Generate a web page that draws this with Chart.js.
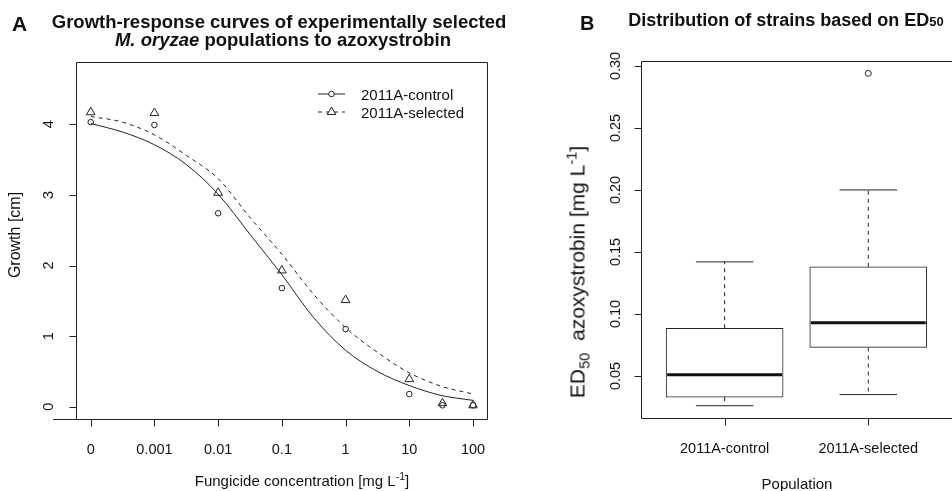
<!DOCTYPE html>
<html lang="en">
<head>
<meta charset="UTF-8">
<title>Azoxystrobin growth response and ED50</title>
<script src="https://cdn.jsdelivr.net/npm/chart.js@4.4.1/dist/chart.umd.min.js"></script>
<style>
  body { margin: 0; width: 952px; height: 491px; overflow: hidden; position: relative; background: #fff;
         font-family: "Liberation Sans", Arial, sans-serif; color: #111; }
  canvas { position: absolute; top: 0; }
  #chartA { left: 0; }
  #chartB { left: 500px; }
  .t { position: absolute; white-space: nowrap; line-height: 1; }
  .bold { font-weight: bold; }
  .rot { transform: translate(-50%, -50%) rotate(-90deg); }
  .mid { transform: translateX(-50%); }
  sup, sub { font-size: 70%; line-height: 0; }
</style>
</head>
<body>
<canvas id="chartA" width="500" height="491"></canvas>
<canvas id="chartB" width="452" height="491"></canvas>

<div class="t bold" style="left:12px; top:13px; font-size:21px;">A</div>
<div class="t bold mid" style="left:279px; top:12.5px; font-size:18.5px;">Growth-response curves of experimentally selected</div>
<div class="t bold mid" style="left:283px; top:30.5px; font-size:18.5px;"><i>M. oryzae</i> populations to azoxystrobin</div>
<div class="t" style="left:15px; top:235px; font-size:16px;"><div class="rot">Growth [cm]</div></div>
<div class="t mid" style="left:302px; top:473px; font-size:15px;">Fungicide concentration [mg L<sup>-1</sup>]</div>

<div class="t bold" style="left:580px; top:12.5px; font-size:20px;">B</div>
<div class="t bold mid" style="left:786px; top:10.7px; font-size:18px;">Distribution of strains based on ED<span style="font-size:13px;">50</span></div>
<div class="t" style="left:577px; top:272px; font-size:21px;"><div class="rot">ED<sub>50</sub>&nbsp; azoxystrobin [mg L<sup>-1</sup>]</div></div>
<div class="t mid" style="left:797px; top:476px; font-size:15px;">Population</div>

<script>
// Panel A: dose on log10 scale, dose 0 is drawn at -4
const doseTicks = [-4, -3, -2, -1, 0, 1, 2];
const doseLabels = ['0', '0.001', '0.01', '0.1', '1', '10', '100'];
const doseLog = [-4, -3, -2, -1, 0, 1, 1.52, 2];
const growthControl = [4.03, 3.99, 2.74, 1.68, 1.10, 0.18, 0.02, 0.02];
const growthSelected = [4.17, 4.16, 3.03, 1.93, 1.51, 0.39, 0.05, 0.02];
const growthTicks = [0, 1, 2, 3, 4];
const growthLabels = ['0', '1', '2', '3', '4'];

// fitted curves
const curveLog = [-4, -3.5, -3, -2.5, -2, -1.5, -1, -0.5, 0, 0.5, 1, 1.5, 2];
const curveControl = [4.01, 3.89, 3.71, 3.43, 3.01, 2.44, 1.87, 1.26, 0.80, 0.50, 0.30, 0.16, 0.09];
const curveSelected = [4.11, 4.03, 3.85, 3.56, 3.23, 2.68, 2.16, 1.59, 1.12, 0.77, 0.48, 0.29, 0.18];

// Panel B: ED50 box plot
const groups = ['2011A-control', '2011A-selected'];
const ed50Low = [0.026, 0.035];
const ed50Q1 = [0.033, 0.073];
const ed50Median = [0.051, 0.093];
const ed50Q3 = [0.0885, 0.138];
const ed50High = [0.142, 0.200];
const ed50Outliers = [[], [0.294]];
const ed50Ticks = [0.05, 0.10, 0.15, 0.20, 0.25, 0.30];
const ed50Labels = ['0.05', '0.10', '0.15', '0.20', '0.25', '0.30'];

const INK = '#222';
const TXT = '#111';
const FONT = '14.5px "Liberation Sans", Arial, sans-serif';

// R-like frame, ticks, tick labels and legend
const rAxes = {
  id: 'rAxes',
  afterDraw(chart, args, o) {
    const { ctx, chartArea: a, scales: { x, y } } = chart;
    const L = Math.round(a.left) + 0.5, R = Math.round(a.right) - 0.5;
    const T = Math.round(a.top) + 0.5, B = Math.round(a.bottom) - 0.5;
    ctx.save();
    ctx.strokeStyle = INK;
    ctx.lineWidth = 1;
    ctx.setLineDash([]);
    ctx.beginPath();
    ctx.moveTo(o.openRight ? chart.width : R, T);
    ctx.lineTo(L, T);
    ctx.lineTo(L, B);
    ctx.moveTo(o.bottomFrom ?? L, B);
    ctx.lineTo(o.openRight ? chart.width : R, B);
    if (!o.openRight) { ctx.moveTo(R, T); ctx.lineTo(R, B); }
    o.xTicks.forEach(v => {
      const px = Math.round(x.getPixelForValue(v)) + 0.5;
      ctx.moveTo(px, B); ctx.lineTo(px, B + 7);
    });
    o.yTicks.forEach(v => {
      const py = Math.round(y.getPixelForValue(v)) + 0.5;
      ctx.moveTo(L - 7, py); ctx.lineTo(L, py);
    });
    ctx.stroke();

    ctx.fillStyle = TXT;
    ctx.font = FONT;
    ctx.textAlign = 'center';
    ctx.textBaseline = 'alphabetic';
    o.xTicks.forEach((v, i) => ctx.fillText(o.xLabels[i], x.getPixelForValue(v), o.xBase));
    o.yTicks.forEach((v, i) => {
      ctx.save();
      ctx.translate(o.yBase, y.getPixelForValue(v));
      ctx.rotate(-Math.PI / 2);
      ctx.fillText(o.yLabels[i], 0, 0);
      ctx.restore();
    });

    if (o.legend) {
      const lg = o.legend;
      lg.items.forEach((di, k) => {
        const ds = chart.data.datasets[di];
        const line = chart.data.datasets[lg.lines[k]];
        const ly = lg.y + k * lg.gap;
        ctx.beginPath();
        ctx.setLineDash(line.borderDash || []);
        ctx.moveTo(lg.x, ly); ctx.lineTo(lg.x + lg.w, ly);
        ctx.stroke();
        ctx.setLineDash([]);
        ctx.fillStyle = '#fff';
        Chart.helpers.drawPoint(ctx, { pointStyle: ds.pointStyle, radius: ds.pointRadius, rotation: 0, borderWidth: 1 }, lg.x + lg.w / 2, ly);
        ctx.fillStyle = TXT;
        ctx.font = '15px "Liberation Sans", Arial, sans-serif';
        ctx.textAlign = 'left';
        ctx.fillText(ds.label, lg.textX, ly + 6);
      });
    }
    ctx.restore();
  }
};

const xy = (xs, ys) => xs.map((v, i) => ({ x: v, y: ys[i] }));

new Chart(document.getElementById('chartA'), {
  type: 'scatter',
  data: {
    datasets: [
      { label: 'control fit', data: xy(curveLog, curveControl), showLine: true, borderColor: INK, borderWidth: 1,
        pointRadius: 0, cubicInterpolationMode: 'monotone' },
      { label: 'selected fit', data: xy(curveLog, curveSelected), showLine: true, borderColor: INK, borderWidth: 1,
        borderDash: [4, 4], pointRadius: 0, cubicInterpolationMode: 'monotone' },
      { label: '2011A-control', data: xy(doseLog, growthControl), pointStyle: 'circle', pointRadius: 2.8,
        borderColor: INK, backgroundColor: 'rgba(0,0,0,0)', pointBorderWidth: 1 },
      { label: '2011A-selected', data: xy(doseLog, growthSelected), pointStyle: 'triangle', pointRadius: 5,
        borderColor: INK, backgroundColor: 'rgba(0,0,0,0)', pointBorderWidth: 1 }
    ]
  },
  options: {
    responsive: false,
    animation: false,
    layout: { padding: { left: 76, top: 62, right: 12, bottom: 71 } },
    scales: {
      x: { type: 'linear', display: false, min: -4.231, max: 2.235 },
      y: { type: 'linear', display: false, min: -0.188, max: 4.882 }
    },
    plugins: {
      legend: { display: false },
      tooltip: { enabled: false },
      rAxes: {
        xTicks: doseTicks, xLabels: doseLabels, xBase: 454,
        yTicks: growthTicks, yLabels: growthLabels, yBase: 53,
        bottomFrom: 53,
        legend: { items: [2, 3], lines: [0, 1], x: 318, w: 27, y: 94, gap: 18, textX: 361 }
      }
    }
  },
  plugins: [rAxes]
});

// box plot pieces built from the summary arrays
const BOX_HALF = 0.4, CAP_HALF = 0.2;
const boxDatasets = [];
groups.forEach((g, i) => {
  const c = i + 1;
  boxDatasets.push({ type: 'line', label: g + ' median', order: 0, borderColor: '#111', borderWidth: 3, pointRadius: 0,
    data: [{ x: c - BOX_HALF, y: ed50Median[i] }, { x: c + BOX_HALF, y: ed50Median[i] }] });
  boxDatasets.push({ type: 'line', label: g + ' upper whisker', order: 1, borderColor: INK, borderWidth: 1, borderDash: [4, 4], pointRadius: 0,
    data: [{ x: c, y: ed50Q3[i] }, { x: c, y: ed50High[i] }] });
  boxDatasets.push({ type: 'line', label: g + ' lower whisker', order: 1, borderColor: INK, borderWidth: 1, borderDash: [4, 4], pointRadius: 0,
    data: [{ x: c, y: ed50Q1[i] }, { x: c, y: ed50Low[i] }] });
  boxDatasets.push({ type: 'line', label: g + ' upper cap', order: 1, borderColor: INK, borderWidth: 1, pointRadius: 0,
    data: [{ x: c - CAP_HALF, y: ed50High[i] }, { x: c + CAP_HALF, y: ed50High[i] }] });
  boxDatasets.push({ type: 'line', label: g + ' lower cap', order: 1, borderColor: INK, borderWidth: 1, pointRadius: 0,
    data: [{ x: c - CAP_HALF, y: ed50Low[i] }, { x: c + CAP_HALF, y: ed50Low[i] }] });
  if (ed50Outliers[i].length) {
    boxDatasets.push({ type: 'scatter', label: g + ' outliers', order: 0, pointStyle: 'circle', pointRadius: 3,
      borderColor: INK, backgroundColor: 'rgba(0,0,0,0)', pointBorderWidth: 1,
      data: ed50Outliers[i].map(v => ({ x: c, y: v })) });
  }
});

new Chart(document.getElementById('chartB'), {
  type: 'bar',
  data: {
    datasets: [
      { label: 'IQR', order: 2, data: groups.map((g, i) => ({ x: i + 1, y: [ed50Q1[i], ed50Q3[i]] })),
        backgroundColor: '#fff', borderColor: INK, borderWidth: 1, borderSkipped: false, barThickness: 117 },
      ...boxDatasets
    ]
  },
  options: {
    responsive: false,
    animation: false,
    layout: { padding: { left: 141, top: 61, right: 0, bottom: 72 } },
    scales: {
      x: { type: 'linear', display: false, offset: false, min: 0.418, max: 2.548 },
      y: { type: 'linear', display: false, beginAtZero: false, min: 0.0153, max: 0.304 }
    },
    plugins: {
      legend: { display: false },
      tooltip: { enabled: false },
      rAxes: {
        xTicks: [1, 2], xLabels: groups, xBase: 453,
        yTicks: ed50Ticks, yLabels: ed50Labels, yBase: 120,
        openRight: true
      }
    }
  },
  plugins: [rAxes]
});
</script>
</body>
</html>
